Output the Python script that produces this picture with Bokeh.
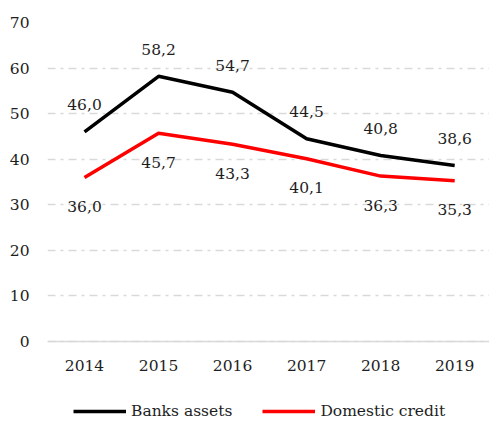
from bokeh.plotting import figure
from bokeh.models import Legend, LegendItem, FixedTicker, ColumnDataSource
from bokeh.core.properties import value
from bokeh.embed import file_html
from bokeh.resources import INLINE

years = [2014, 2015, 2016, 2017, 2018, 2019]
banks_assets = [46.0, 58.2, 54.7, 44.5, 40.8, 38.6]
domestic_credit = [36.0, 45.7, 43.3, 40.1, 36.3, 35.3]
y_ticks = [0, 10, 20, 30, 40, 50, 60, 70]

FONT = "DejaVu Serif"
TXT = "#1e1e1e"

def fmt(v):
    return f"{v:.1f}".replace(".", ",")

p = figure(frame_width=442, frame_height=399, output_backend="svg", toolbar_location=None,
           x_range=(years[0] - 0.5, years[-1] + 0.47), y_range=(-17.55, 70),
           min_border_left=47, min_border_right=0, min_border_top=22, min_border_bottom=0)
p.outline_line_color = None
p.background_fill_color = "white"

# axes
p.yaxis.ticker = FixedTicker(ticks=y_ticks)
p.xaxis.ticker = FixedTicker(ticks=years)
p.xaxis.fixed_location = 0
for ax in (p.xaxis[0], p.yaxis[0]):
    ax.major_tick_line_color = None
    ax.minor_tick_line_color = None
    ax.major_label_text_font = FONT
    ax.major_label_text_font_size = "15.5px"
    ax.major_label_text_color = TXT
p.yaxis.axis_line_color = None
p.yaxis.major_label_standoff = 12
p.xaxis.axis_line_color = "#d9d9d9"
p.xaxis.axis_line_width = 1.5
p.xaxis.major_label_standoff = 12

p.xgrid.grid_line_color = None
p.ygrid.grid_line_color = "#d9d9d9"
p.ygrid.grid_line_width = 1.5
p.ygrid.grid_line_dash = "8 5 3 5"

src = ColumnDataSource(dict(x=years, b=banks_assets, d=domestic_credit,
                            bl=[fmt(v) for v in banks_assets],
                            dl=[fmt(v) for v in domestic_credit]))

r1 = p.line("x", "b", source=src, line_color="black", line_width=3.5)
r2 = p.line("x", "d", source=src, line_color="#ff0000", line_width=3.5)

p.text("x", "b", text="bl", source=src, y_offset=-27, text_align="center",
       text_baseline="middle", text_font=value(FONT), text_font_size="15.5px", text_color=TXT)
p.text("x", "d", text="dl", source=src, y_offset=29, text_align="center",
       text_baseline="middle", text_font=value(FONT), text_font_size="15.5px", text_color=TXT)

legend = Legend(items=[LegendItem(label="Banks assets", renderers=[r1]),
                       LegendItem(label="Domestic credit", renderers=[r2])],
                orientation="horizontal", location=(26, 1),
                label_text_font=FONT, label_text_font_size="15.5px", label_text_color=TXT,
                glyph_width=53, glyph_height=16, label_standoff=5, spacing=30,
                padding=2, margin=0, border_line_color=None, background_fill_alpha=0)
p.add_layout(legend, "center")

open("out.html", "w").write(file_html(p, INLINE))
